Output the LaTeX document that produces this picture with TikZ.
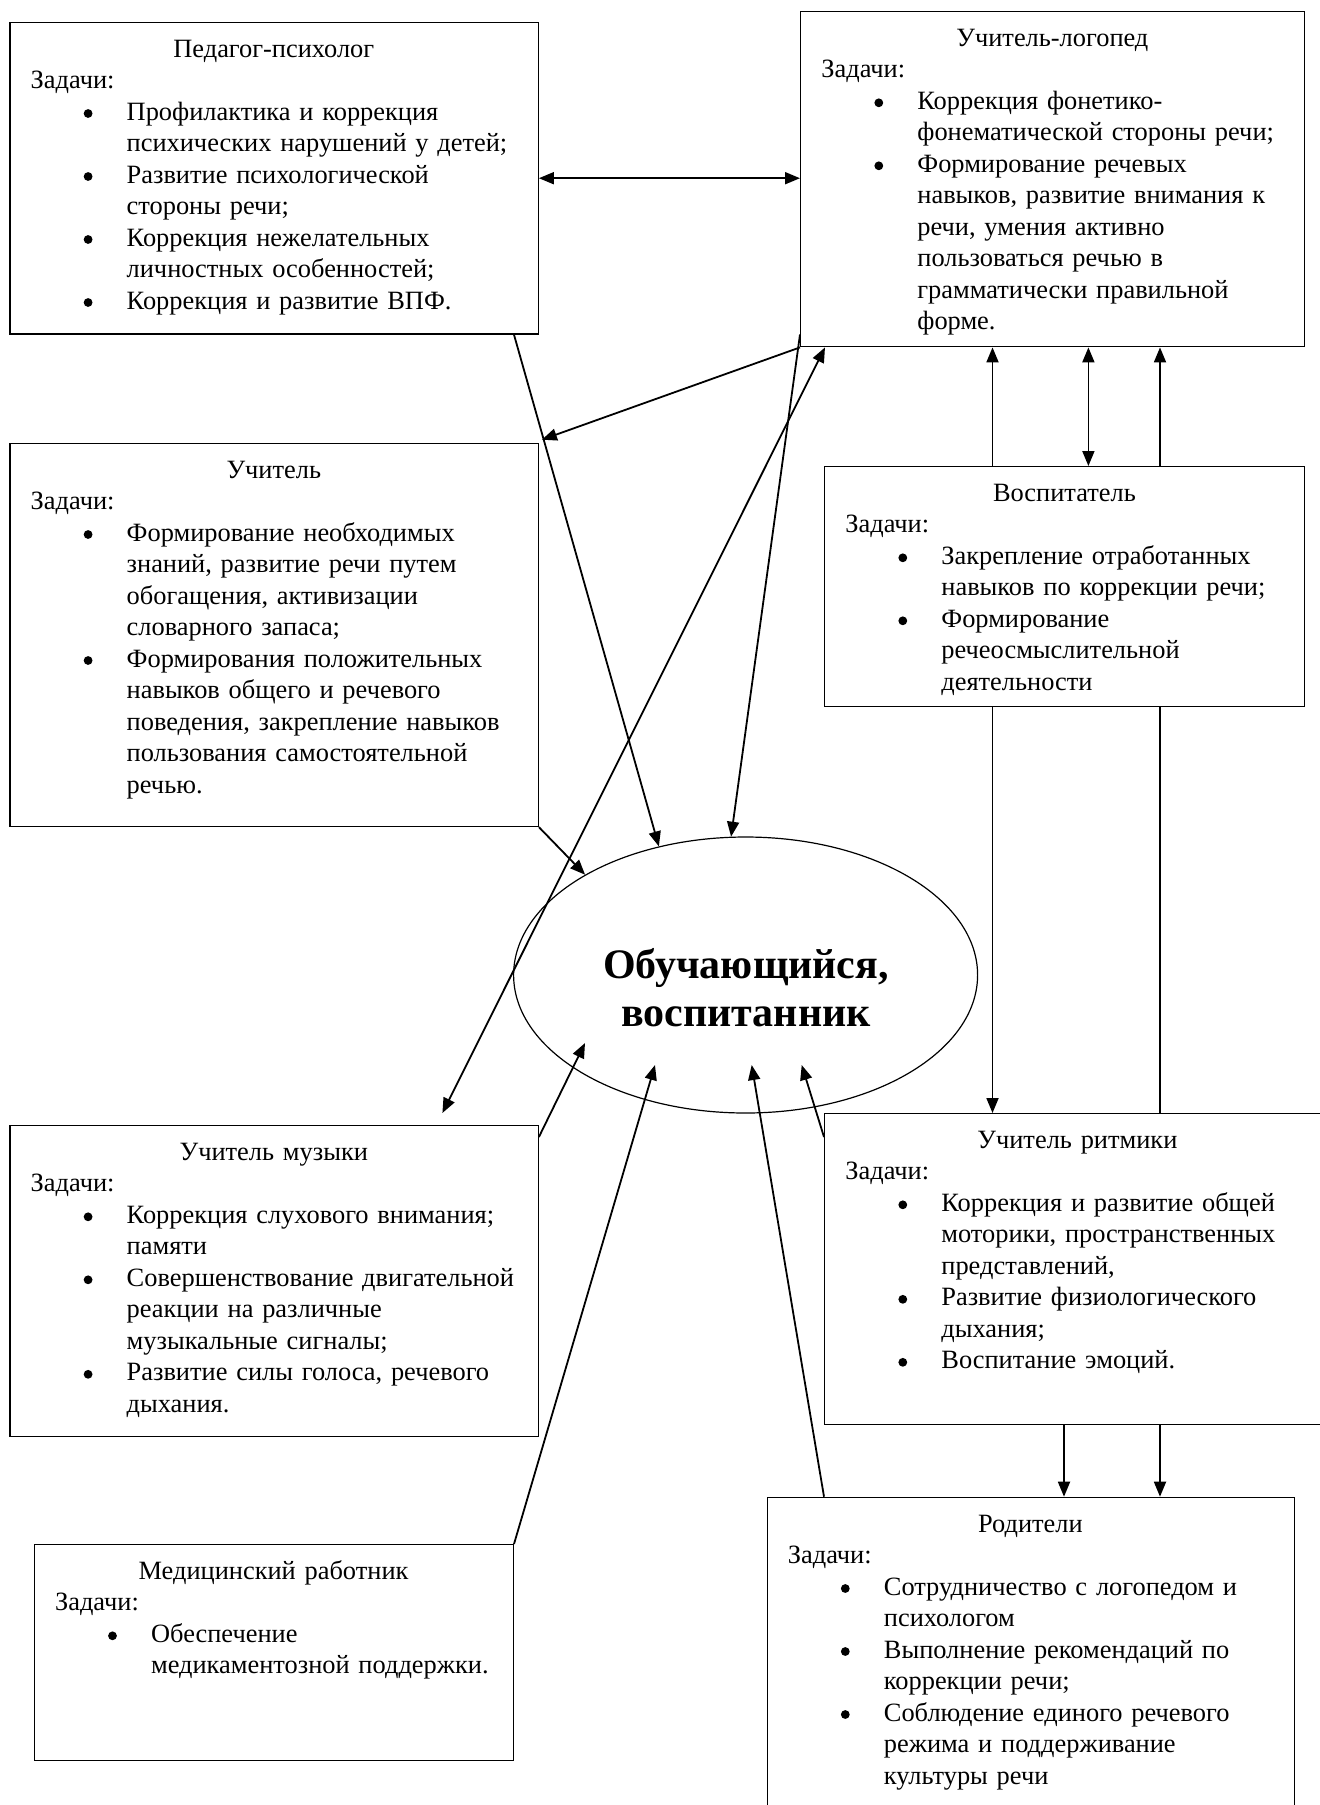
\documentclass[tikz,border=0pt]{standalone}
\usepackage{fontspec}
\setmainfont{Liberation Serif}
\usetikzlibrary{shapes.geometric,arrows.meta,calc}

\newcommand\ttl[1]{\makebox[\hsize][c]{\rule{0pt}{11pt}#1}}
\newcommand\zd{\hspace*{10.5pt}Задачи:}
\newcommand\dotb{\tikz[baseline=-3.3pt]\fill (0pt,0pt) circle[radius=2.2pt];}
\newcommand\bi[1]{\makebox[58.5pt][l]{\hspace*{37pt}\dotb}#1}
\newcommand\bc[1]{\hspace*{58.5pt}#1}

\begin{document}
\begin{tikzpicture}[x=0.5pt,y=-0.5pt,
  box/.style={draw, line width=0.7pt, rectangle, anchor=north west, inner sep=0pt},
  txt/.style={anchor=north west, inner sep=0pt, align=left, font=\fontsize{13.2}{15.75}\selectfont},
  arr/.style={line width=0.9pt, -{Triangle[length=7.5pt,width=6pt]}},
  darr/.style={line width=0.9pt, {Triangle[length=7.5pt,width=6pt]}-{Triangle[length=7.5pt,width=6pt]}},
  ln/.style={line width=0.9pt}]

\useasboundingbox (0,0) rectangle (1320,1805);

% boxes
\node[box, minimum width=264.1pt, minimum height=155.8pt] (psy) at (9.3,21.7) {};
\node[box, minimum width=252pt, minimum height=167.5pt] (logo) at (800,11) {};
\node[box, minimum width=264.1pt, minimum height=191.5pt] (teach) at (9.3,442.7) {};
\node[box, minimum width=240pt, minimum height=119.85pt] (vosp) at (824,466) {};
\node[box, minimum width=264.1pt, minimum height=155.5pt] (music) at (9.3,1125) {};
\node[box, minimum width=253pt, minimum height=155.5pt] (rhy) at (824,1113) {};
\node[box, minimum width=239.45pt, minimum height=108pt] (med) at (33.7,1544) {};
\node[box, minimum width=263.5pt, minimum height=166.65pt] (par) at (766.5,1496.7) {};

\node[draw, ellipse, line width=0.6pt, minimum width=232pt, minimum height=138pt, inner sep=0pt] (stu) at (745.6,975) {};

% texts
\node[txt, text width=264.1pt] (psyT) at (9.3,34.7) {\ttl{Педагог-психолог}\\
\zd\\
\bi{Профилактика и коррекция}\\
\bc{психических нарушений у детей;}\\
\bi{Развитие психологической}\\
\bc{стороны речи;}\\
\bi{Коррекция нежелательных}\\
\bc{личностных особенностей;}\\
\bi{Коррекция и развитие ВПФ.}};

\node[txt, text width=252pt] (logoT) at (800,24) {\ttl{Учитель-логопед}\\
\zd\\
\bi{Коррекция фонетико-}\\
\bc{фонематической стороны речи;}\\
\bi{Формирование речевых}\\
\bc{навыков, развитие внимания к}\\
\bc{речи, умения активно}\\
\bc{пользоваться речью в}\\
\bc{грамматически правильной}\\
\bc{форме.}};

\node[txt, text width=264.1pt] (teachT) at (9.3,455.7) {\ttl{Учитель}\\
\zd\\
\bi{Формирование необходимых}\\
\bc{знаний, развитие речи путем}\\
\bc{обогащения, активизации}\\
\bc{словарного запаса;}\\
\bi{Формирования положительных}\\
\bc{навыков общего и речевого}\\
\bc{поведения, закрепление навыков}\\
\bc{пользования самостоятельной}\\
\bc{речью.}};

\node[txt, text width=240pt] (vospT) at (824,479) {\ttl{Воспитатель}\\
\zd\\
\bi{Закрепление отработанных}\\
\bc{навыков по коррекции речи;}\\
\bi{Формирование}\\
\bc{речеосмыслительной}\\
\bc{деятельности}};

\node[txt, text width=264.1pt] (musicT) at (9.3,1138) {\ttl{Учитель музыки}\\
\zd\\
\bi{Коррекция слухового внимания;}\\
\bc{памяти}\\
\bi{Совершенствование двигательной}\\
\bc{реакции на различные}\\
\bc{музыкальные сигналы;}\\
\bi{Развитие силы голоса, речевого}\\
\bc{дыхания.}};

\node[txt, text width=253pt] (rhyT) at (824,1126) {\ttl{Учитель ритмики}\\
\zd\\
\bi{Коррекция и развитие общей}\\
\bc{моторики, пространственных}\\
\bc{представлений,}\\
\bi{Развитие физиологического}\\
\bc{дыхания;}\\
\bi{Воспитание эмоций.}};

\node[txt, text width=239.45pt] (medT) at (33.7,1557) {\ttl{Медицинский работник}\\
\zd\\
\bi{Обеспечение}\\
\bc{медикаментозной поддержки.}};

\node[txt, text width=263.5pt] (parT) at (766.5,1509.7) {\ttl{Родители}\\
\zd\\
\bi{Сотрудничество с логопедом и}\\
\bc{психологом}\\
\bi{Выполнение рекомендаций по}\\
\bc{коррекции речи;}\\
\bi{Соблюдение единого речевого}\\
\bc{режима и поддерживание}\\
\bc{культуры речи}};

\node[font=\fontsize{21}{24}\selectfont\bfseries, align=center, inner sep=0pt] (stuT) at (746,988) {Обучающийся,\\воспитанник};

% free ends inside the ellipse
\coordinate (musTip) at ($(stu.center)+(-160.6,68)$);
\coordinate (medTip) at ($(stu.center)+(-90.6,90)$);
\coordinate (parTip) at ($(stu.center)+(6.1,90)$);
\coordinate (rhyTip) at ($(stu.center)+(56.1,90)$);

% connectors
\draw[darr] (psy.east) -- (psy.east -| logo.west);
\draw[arr] ([shift={(-24.9,0)}]psy.south east) -- (stu.124.9);
\draw[arr] (logo.south west) -- ([shift={(3,-3)}]teach.north east);
\draw[arr] ([shift={(0,-13)}]logo.south west) -- (stu.96.7);
\draw[darr] ([shift={(-96.5,-12)}]music.north east) -- ([shift={(25,0)}]logo.south west);
\draw[arr] (teach.south east) -- (stu.148.8);
\draw[arr] ([shift={(0,12)}]music.north east) -- (musTip);
\draw[arr] (med.north east) -- (medTip);
\draw[arr] ([shift={(57.5,0)}]par.north west) -- (parTip);
\draw[arr] ([shift={(0,24)}]rhy.north west) -- (rhyTip);

\coordinate (va) at ([shift={(168.5,0)}]vosp.north west);
\coordinate (vb) at ([shift={(264.4,0)}]vosp.north west);
\coordinate (vc) at ([shift={(336,0)}]vosp.north west);
\draw[arr] (va) -- (va |- logo.south);
\draw[darr] (vb) -- (vb |- logo.south);
\draw[arr] (vc) -- (vc |- logo.south);
\coordinate (vd) at ([shift={(168.5,0)}]vosp.south west);
\coordinate (ve) at ([shift={(336,0)}]vosp.south west);
\draw[arr] (vd) -- (vd |- rhy.north);
\draw[ln] (ve) -- (ve |- rhy.north);
\coordinate (ra) at ([shift={(240,0)}]rhy.south west);
\coordinate (rb) at ([shift={(336,0)}]rhy.south west);
\draw[arr] (ra) -- (ra |- par.north);
\draw[arr] (rb) -- (rb |- par.north);
\end{tikzpicture}
\end{document}
